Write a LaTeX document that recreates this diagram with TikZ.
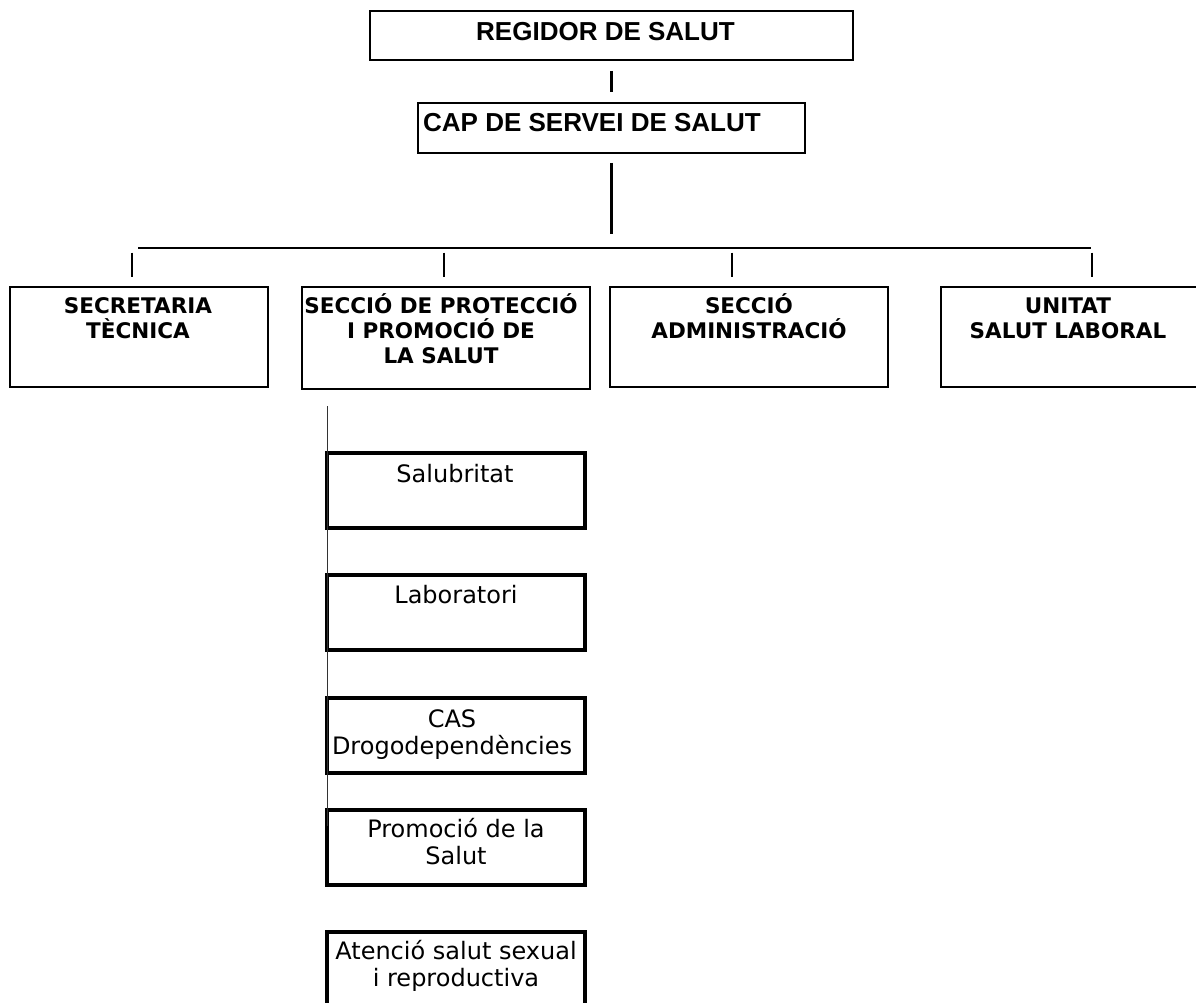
\documentclass[tikz,border=0pt]{standalone}
\usepackage{fontspec}
\setmainfont{Liberation Sans}
\newfontfamily\dvs{DejaVu Sans}
\usetikzlibrary{calc}
\begin{document}
\begin{tikzpicture}[x=1pt,y=-1pt,
  boxbase/.style={draw=black, inner sep=0pt},
  topbox/.style={boxbase, line width=2pt},
  headbox/.style={boxbase, line width=2.7pt},
  subbox/.style={boxbase, line width=3.2pt, minimum width=258pt, minimum height=75pt},
  link/.style={draw=black, line width=2.1pt},
  sublink/.style={draw=black!80, line width=1.5pt},
  toptext/.style={font=\bfseries\fontsize{26}{30}\selectfont, inner sep=0pt},
  headtext/.style={font=\dvs\bfseries\fontsize{21.5}{25}\selectfont, align=center, inner sep=0pt, anchor=north},
  subtext/.style={font=\dvs\fontsize{24}{27}\selectfont, align=center, inner sep=0pt, anchor=north}
]
\useasboundingbox (0,0) rectangle (1196,1003);
\clip (0,0) rectangle (1196,1003);

% top boxes
\node[topbox, minimum width=483pt, minimum height=49pt] (reg) at (611.5,35.5) {};
\node[toptext, anchor=base] (regtext) at (605.5,40.7) {REGIDOR DE SALUT};
\node[topbox, minimum width=387pt, minimum height=50pt] (cap) at (611.5,128) {};
\node[toptext, anchor=base west] (captext) at (423,132) {CAP DE SERVEI DE SALUT};

% header boxes
\node[headbox, minimum width=258pt, minimum height=100pt] (sec) at (139,337) {};
\node[headbox, minimum width=288pt, minimum height=102pt] (prot) at (446,338) {};
\node[headbox, minimum width=278pt, minimum height=100pt] (adm) at (749,337) {};
\node[headbox, minimum width=257pt, minimum height=100pt] (uni) at (1069.5,337) {};

\node[headtext] (sectext) at (138,289) {\rule{0pt}{24pt}SECRETARIA\\TÈCNICA};
\node[headtext] (prottext) at (441,289) {\rule{0pt}{24pt}SECCIÓ DE PROTECCIÓ\\I PROMOCIÓ DE\\LA SALUT};
\node[headtext] (admtext) at (749,289) {\rule{0pt}{24pt}SECCIÓ\\ADMINISTRACIÓ};
\node[headtext] (unitext) at (1068,289) {\rule{0pt}{24pt}UNITAT\\SALUT LABORAL};

% sub boxes
\node[subbox] (sal) at (456,490.5) {};
\node[subbox] (lab) at (456,612.5) {};
\node[subbox] (cas) at (456,735.5) {};
\node[subbox] (prom) at (456,847.5) {};
\node[subbox] (aten) at (456,969.5) {};

\node[subtext] (saltext) at (455,457) {\rule{0pt}{25pt}Salubritat};
\node[subtext] (labtext) at (456,578) {\rule{0pt}{25pt}Laboratori};
\node[subtext] (castext) at (452,702) {\rule{0pt}{25pt}CAS\\Drogodependències};
\node[subtext] (promtext) at (456,812) {\rule{0pt}{25pt}Promoció de la\\Salut};
\node[subtext] (atentext) at (456,934) {\rule{0pt}{25pt}Atenció salut sexual\\i reproductiva};

% connectors
\draw[link] ($(reg.south)+(0,10)$) -- ($(cap.north)+(0,-10)$);
\draw[link] ($(cap.south)+(0,9)$) -- ($(cap.south)+(0,80)$);
\draw[link, line width=1.9pt] ($(sec.north)+(-1,-38)$) -- ($(uni.north)+(21.5,-38)$);
\draw[link, line width=1.8pt] ($(sec.north)+(-7,-33)$) -- ($(sec.north)+(-7,-9)$);
\draw[link, line width=1.8pt] ($(prot.north)+(-2,-33)$) -- ($(prot.north)+(-2,-9)$);
\draw[link, line width=1.8pt] ($(adm.north)+(-17,-33)$) -- ($(adm.north)+(-17,-9)$);
\draw[link, line width=1.8pt] ($(uni.north)+(22.5,-33)$) -- ($(uni.north)+(22.5,-9)$);
\draw[sublink] ($(sal.north west)+(2,-45)$) -- ($(prom.north west)+(2,18)$);
\end{tikzpicture}
\end{document}
